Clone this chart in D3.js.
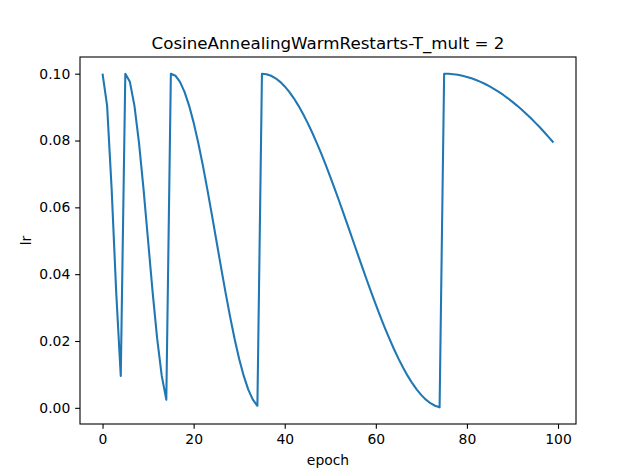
<!DOCTYPE html>
<html><head><meta charset="utf-8">
<script src="https://cdn.jsdelivr.net/npm/d3@7"></script>
<style>body{margin:0;background:#fff}svg{display:block}text{font-family:"DejaVu Sans",sans-serif;fill:#000}</style>
</head><body><svg id="c" width="640" height="476"></svg>
<script>
const titleText = "CosineAnnealingWarmRestarts-T_mult = 2";
const xLabel = "epoch";
const yLabel = "lr";
const xTicks = [0, 20, 40, 60, 80, 100];
const yTicks = [0.00, 0.02, 0.04, 0.06, 0.08, 0.10];
const lr = [
  0.1, 0.090451, 0.065451, 0.034549, 0.009549,
  0.1, 0.097553, 0.090451, 0.079389, 0.065451, 0.05, 0.034549, 0.020611, 0.009549, 0.002447,
  0.1, 0.099384, 0.097553, 0.094550, 0.090451, 0.085355, 0.079389, 0.072699, 0.065451, 0.057822,
  0.05, 0.042178, 0.034549, 0.027300, 0.020611, 0.014645, 0.009549, 0.005450, 0.002447, 0.000616,
  0.1, 0.099846, 0.099384, 0.098619, 0.097553, 0.096194, 0.094550, 0.092632, 0.090451, 0.088020,
  0.085355, 0.082472, 0.079389, 0.076125, 0.072700, 0.069134, 0.065451, 0.061672, 0.057822, 0.053923,
  0.05, 0.046077, 0.042178, 0.038328, 0.034549, 0.030866, 0.027300, 0.023875, 0.020611, 0.017528,
  0.014645, 0.011980, 0.009549, 0.007368, 0.005450, 0.003806, 0.002447, 0.001381, 0.000616, 0.000154,
  0.1, 0.099961, 0.099846, 0.099653, 0.099384, 0.099039, 0.098619, 0.098123, 0.097553, 0.096910,
  0.096194, 0.095407, 0.094550, 0.093625, 0.092632, 0.091574, 0.090451, 0.089266, 0.088020, 0.086716,
  0.085355, 0.083940, 0.082472, 0.080955, 0.079389
];
const epochs = lr.map((d, i) => i);

const svg = d3.select("#c");
const L = 80, R = 576, T = 57, B = 424;
const xMin = d3.min(epochs), xMax = d3.max(epochs), xPad = (xMax - xMin) * 0.05;
const yMin = d3.min(lr), yMax = d3.max(lr), yPad = (yMax - yMin) * 0.05;
const x = d3.scaleLinear().domain([xMin - xPad, xMax + xPad]).range([L, R]);
const y = d3.scaleLinear().domain([yMin - yPad, yMax + yPad]).range([B, T]);

const tickLen = 4.86, pad = 4.86;
const xAxis = svg.append("g").attr("transform", `translate(0,${B})`)
  .call(d3.axisBottom(x).tickValues(xTicks).tickSize(tickLen).tickPadding(pad).tickFormat(d3.format("d")));
const yAxis = svg.append("g").attr("transform", `translate(${L},0)`)
  .call(d3.axisLeft(y).tickValues(yTicks).tickSize(tickLen).tickPadding(pad).tickFormat(d3.format(".2f")));
[xAxis, yAxis].forEach(g => {
  g.select(".domain").remove();
  g.selectAll(".tick line").attr("stroke", "#000").attr("stroke-width", 1.1);
  g.selectAll(".tick text").attr("font-size", "13.9px").attr("font-family", "DejaVu Sans");
});

svg.append("path").datum(epochs)
  .attr("fill", "none").attr("stroke", "#1f77b4").attr("stroke-width", 2.08)
  .attr("stroke-linejoin", "round").attr("stroke-linecap", "butt")
  .attr("d", d3.line().x(i => x(epochs[i])).y(i => y(lr[i])));

svg.append("rect").attr("x", L).attr("y", T).attr("width", R - L).attr("height", B - T)
  .attr("fill", "none").attr("stroke", "#000").attr("stroke-width", 1.1);

svg.append("text").attr("x", (L + R) / 2).attr("y", 49).attr("text-anchor", "middle")
  .attr("font-size", "16.7px").text(titleText);
svg.append("text").attr("x", (L + R) / 2).attr("y", 465).attr("text-anchor", "middle")
  .attr("font-size", "13.9px").text(xLabel);
svg.append("text").attr("transform", `translate(31,${(T + B) / 2}) rotate(-90)`).attr("text-anchor", "middle")
  .attr("font-size", "13.9px").text(yLabel);
</script></body></html>
